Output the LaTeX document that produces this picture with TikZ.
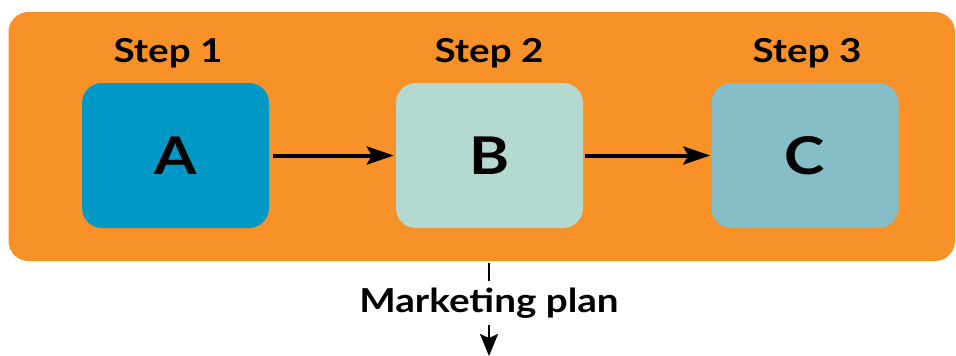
\documentclass[tikz,border=0pt]{standalone}
\usepackage{fontspec}
\setmainfont{Lato}[FakeStretch=1.17]
\usetikzlibrary{arrows.meta}
\definecolor{panelorange}{HTML}{F99129}
\definecolor{boxA}{HTML}{0099C6}
\definecolor{boxB}{HTML}{B3D9D1}
\definecolor{boxC}{HTML}{85BEC8}
\tikzset{
  stepbox/.style={draw=none, rounded corners=20pt, minimum width=187pt, minimum height=145pt, inner sep=0pt,
    font=\fontsize{52}{60}\selectfont\bfseries},
  steplabel/.style={font=\fontsize{33}{40}\selectfont\bfseries, inner sep=0pt, anchor=base},
  flow/.style={line width=4pt, -{Stealth[length=27pt, width=18pt, inset=5pt]}},
  outarrow/.style={line width=2pt, -{Stealth[length=22pt, width=18pt, inset=4pt]}},
}
\begin{document}
\begin{tikzpicture}[x=1pt,y=1pt]
\useasboundingbox (0,0) rectangle (956,-356);
\node[fill=panelorange, rounded corners=20pt, minimum width=946.5pt, minimum height=249pt, inner sep=0pt] (panel) at (481.75,-136.5) {};
\node[stepbox, fill=boxA] (A) at (175.5,-155.5) {A};
\node[stepbox, fill=boxB] (B) at (489.5,-155.5) {B};
\node[stepbox, fill=boxC] (C) at (805,-155.5) {C};
\node[steplabel] (s1) at (168,-62) {Step 1};
\node[steplabel] (s2) at (489,-62) {Step 2};
\node[steplabel] (s3) at (807,-62) {Step 3};
\draw[flow] (A.east) ++(4,0) coordinate (a1) (a1) -- ([xshift=-2pt]B.west);
\draw[flow] (B.east) ++(2,0) coordinate (b1) (b1) -- ([xshift=-1pt]C.west);
\node[steplabel] (mp) at (489,-312) {Marketing plan};
\coordinate (top) at (489,-263);
\coordinate (topend) at (489,-281);
\coordinate (low) at (489,-325);
\coordinate (bottom) at (489,-356);
\draw[line width=2pt] (top) -- (topend);
\draw[outarrow] (low) -- (bottom);
\end{tikzpicture}
\end{document}
